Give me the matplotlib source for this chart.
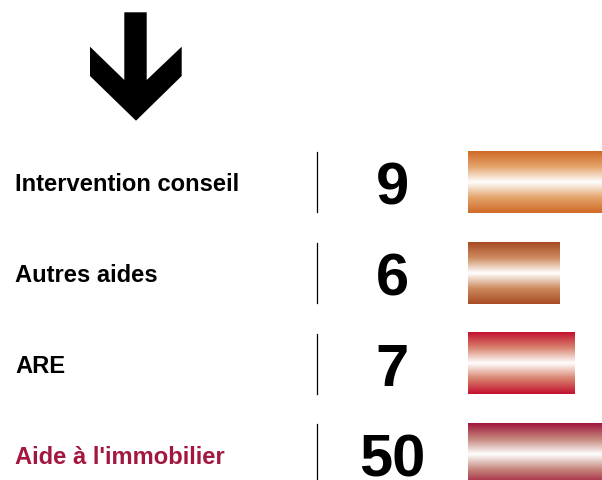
import numpy as np
import matplotlib
matplotlib.use("Agg")
import matplotlib.pyplot as plt
from matplotlib.colors import LinearSegmentedColormap
from matplotlib.patches import Polygon

# data
labels = ["Intervention conseil", "Autres aides", "ARE", "Aide à l'immobilier"]
values = [9, 6, 7, 50]
edge_colors = ["#CF6A26", "#A84B22", "#C3102F", "#A1173D"]
mid_colors = ["#E4A46C", "#CC8A5E", "#D8826E", "#C4847A"]
label_colors = ["#000000", "#000000", "#000000", "#A3173F"]

W, H = 602, 480
row0, step = 182.0, 90.8          # pixel centre of first row, row spacing
bar_x0, px_per_unit = 468, 15.2
bar_h = 61.5 / step

fig = plt.figure(figsize=(W / 100, H / 100), dpi=100)
plt.rcParams['font.family'] = ['Liberation Sans', 'DejaVu Sans']

ylim = ((H - row0) / step, -row0 / step)

def py(p):
    # pixel y -> row units
    return (p - row0) / step

ax = fig.add_axes([0, 0, 1, 1])
ax.set_xlim(0, W)
ax.set_ylim(*ylim)
ax.axis('off')

# big arrow
arrow = [(124.3, 12.3), (146.7, 12.3), (146.7, 80), (181.7, 46.7), (181.7, 76),
         (136, 120.7), (90, 76), (90, 46.7), (124.3, 80)]
ax.add_patch(Polygon([(x, py(y)) for x, y in arrow], closed=True, color='black', lw=0))

for i, (lab, v) in enumerate(zip(labels, values)):
    ax.text(15, i + 9.4 / step, lab, fontsize=17.1, fontweight='bold',
            color=label_colors[i], ha='left', va='baseline')
    ax.plot([316.5, 316.5], [i - 30 / step, i + 30 / step], color='black', lw=0.9)
    ax.text(392.5, i + 22.5 / step, str(v), fontsize=43, fontweight='bold',
            color='black', ha='center', va='baseline')

# bars
bx = fig.add_axes([bar_x0 / W, 0, (W - bar_x0) / W, 1])
bx.set_xlim(0, (W - bar_x0) / px_per_unit)
bx.set_ylim(*ylim)
bx.axis('off')

grad = np.linspace(0, 1, 256).reshape(-1, 1)
for i, v in enumerate(values):
    cmap = LinearSegmentedColormap.from_list(
        f"g{i}", [(0, edge_colors[i]), (0.25, mid_colors[i]), (0.5, "#FFFFFF"),
                  (0.75, mid_colors[i]), (1, edge_colors[i])])
    bx.imshow(grad, cmap=cmap, aspect='auto', interpolation='bilinear',
              extent=(0, v, i + bar_h / 2, i - bar_h / 2))
bx.set_xlim(0, (W - bar_x0) / px_per_unit)
bx.set_ylim(*ylim)

fig.savefig("out.png", dpi=100)
